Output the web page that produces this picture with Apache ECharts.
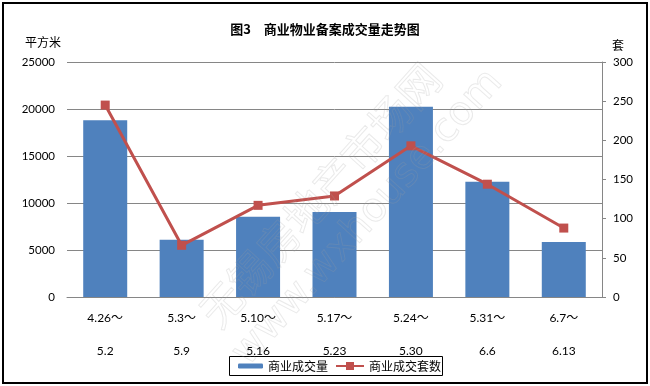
<!DOCTYPE html>
<html><head><meta charset="utf-8">
<script src="https://cdn.jsdelivr.net/npm/echarts@6/dist/echarts.min.js"></script>
<style>html,body{margin:0;padding:0;background:#fff}#c{width:650px;height:386px}</style>
</head><body><div id="c"></div>
<script>
const categories = ['4.26～\n5.2', '5.3～\n5.9', '5.10～\n5.16', '5.17～\n5.23', '5.24～\n5.30', '5.31～\n6.6', '6.7～\n6.13'];
const areaValues = [18800, 6100, 8550, 9050, 20250, 12250, 5850];
const unitCounts = [245, 66, 117, 129, 193, 144, 88];
const leftTicks = { min: 0, max: 25000, interval: 5000 };
const rightTicks = { min: 0, max: 300, interval: 50 };

const FONT = "Lato, 'Noto Sans CJK SC', sans-serif";
const CJK = "'Noto Sans CJK SC', sans-serif";
const chart = echarts.init(document.getElementById('c'), null, { renderer: 'canvas' });
chart.setOption({
  animation: false,
  backgroundColor: '#fff',
  textStyle: { fontFamily: FONT },
  title: {
    text: '图3　商业物业备案成交量走势图',
    left: 'center', top: 18,
    textStyle: { fontFamily: CJK, fontSize: 13, fontWeight: 'bold', color: '#000' }
  },
  grid: { left: 67, right: 48, top: 62, bottom: 89, containLabel: false },
  legend: [
    { data: ['商业成交量'], left: 238, top: 360, padding: 0, itemWidth: 25, itemHeight: 5,
      textStyle: { fontFamily: CJK, fontSize: 12, color: '#000' } },
    { data: ['商业成交套数'], left: 335, top: 360, padding: 0, itemWidth: 28, itemHeight: 10,
      textStyle: { fontFamily: CJK, fontSize: 12, color: '#000' } }
  ],
  xAxis: {
    type: 'category', data: categories,
    axisLine: { lineStyle: { color: '#868686', width: 1 } },
    axisTick: { show: false },
    axisLabel: { color: '#000', fontSize: 12, lineHeight: 33, margin: 5, fontFamily: FONT, interval: 0 }
  },
  yAxis: [
    { type: 'value', name: '平方米', nameLocation: 'end', nameGap: 14,
      nameTextStyle: { fontFamily: CJK, fontSize: 12, color: '#000', align: 'center', padding: [0, 0, 0, -48] },
      min: leftTicks.min, max: leftTicks.max, interval: leftTicks.interval,
      axisLine: { show: false }, axisTick: { show: false },
      splitLine: { lineStyle: { color: '#868686', width: 1 } },
      axisLabel: { color: '#000', fontSize: 11.5, margin: 12, fontFamily: FONT, formatter: v => String(v) } },
    { type: 'value', name: '套', nameLocation: 'end', nameGap: 11,
      nameTextStyle: { fontFamily: CJK, fontSize: 12, color: '#000', align: 'center', padding: [0, 0, 0, 32] },
      min: rightTicks.min, max: rightTicks.max, interval: rightTicks.interval,
      axisLine: { show: true, lineStyle: { color: '#868686', width: 1 } },
      axisTick: { show: true, inside: false, length: 4, lineStyle: { color: '#868686' } },
      splitLine: { show: false },
      axisLabel: { color: '#000', fontSize: 11.5, margin: 11, fontFamily: FONT, formatter: v => String(v) } }
  ],
  series: [
    { name: '商业成交量', type: 'bar', data: areaValues, barWidth: 44, yAxisIndex: 0,
      itemStyle: { color: '#4F81BD' }, z: 2 },
    { name: '商业成交套数', type: 'line', data: unitCounts, yAxisIndex: 1,
      symbol: 'rect', symbolSize: 9,
      lineStyle: { color: '#C0504D', width: 3 }, itemStyle: { color: '#C0504D' }, z: 3 }
  ],
  graphic: [
    { type: 'text', x: 320, y: 195, rotation: 48 * Math.PI / 180, z: 100, silent: true,
      style: { text: '无锡房地产市场网', fontSize: 42, fontFamily: CJK, fill: 'rgba(0,0,0,0)',
        stroke: 'rgba(160,160,160,0.22)', lineWidth: 1, align: 'center', verticalAlign: 'middle' } },
    { type: 'text', x: 368, y: 218, rotation: 48 * Math.PI / 180, z: 100, silent: true,
      style: { text: 'www.wxhouse.com', fontSize: 40, fontFamily: "'DejaVu Sans', sans-serif", fill: 'rgba(0,0,0,0)',
        stroke: 'rgba(160,160,160,0.22)', lineWidth: 1, align: 'center', verticalAlign: 'middle' } },
    { type: 'rect', shape: { x: 229.5, y: 356.5, width: 213, height: 19 }, silent: true,
      style: { fill: 'none', stroke: '#000', lineWidth: 1 } },
    { type: 'rect', shape: { x: 3, y: 3, width: 644, height: 380 }, silent: true,
      style: { fill: 'none', stroke: '#000', lineWidth: 2 } }
  ]
});
</script></body></html>
